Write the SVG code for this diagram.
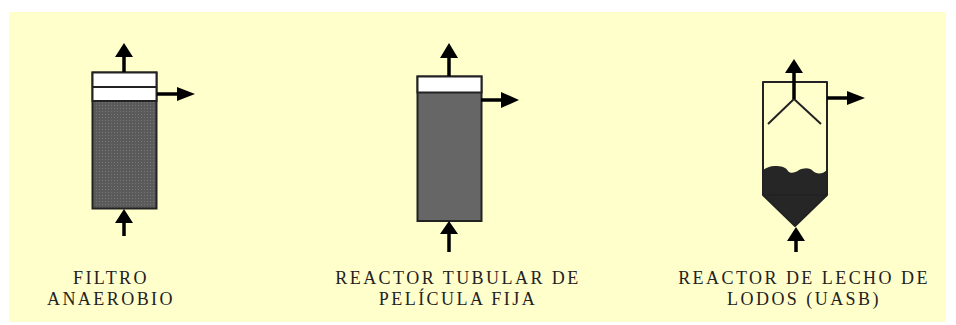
<svg xmlns="http://www.w3.org/2000/svg" width="956" height="325" viewBox="0 0 956 325">
<style>
.o{stroke:#222;stroke-width:2;fill:none;stroke-linejoin:round}
.w{fill:#fff;stroke:#222;stroke-width:2}
.a{stroke:#000;stroke-width:3.500;fill:none}
.h{fill:#000}
text{font-family:"Liberation Serif","Times New Roman",serif;font-size:18px;fill:#222;letter-spacing:2.450px;text-anchor:middle}
</style>
<defs>
<pattern id="dots" width="3" height="3" patternUnits="userSpaceOnUse"><rect width="3" height="3" fill="#5a5a5a"/><rect width="1" height="1" fill="#777"/></pattern>
</defs>
<rect width="956" height="325" fill="#fff"/>
<rect x="9" y="12" width="937" height="310" fill="#ffffcc"/>
<g id="filtro">
<rect x="92.500" y="72.500" width="64" height="136" fill="url(#dots)" stroke="#222" stroke-width="2"/>
<rect class="w" x="92.500" y="72.500" width="64" height="28.500"/>
<line class="o" x1="92.500" y1="87" x2="156.500" y2="87"/>
<text x="111" y="284">FILTRO</text>
<text x="111" y="305">ANAEROBIO</text>
</g>
<g id="tubular">
<rect x="417.500" y="76.500" width="64" height="144.500" fill="#666" stroke="#222" stroke-width="2"/>
<rect class="w" x="417.500" y="76.500" width="64" height="16"/>
<text x="458" y="284">REACTOR TUBULAR DE</text>
<text x="458" y="305">PELÍCULA FIJA</text>
</g>
<g id="uasb">
<path d="M763 170C766 168 770 166 775 166C781 166 786 167 788 171C790 174 795 173 799 170C803 168 810 167 813 171C816 174 822 175 827 170V195L795 226L763 195Z" fill="#262626"/>
<path class="o" d="M763 195V82H827V195L795 226ZM763 195H827"/>
<path class="o" d="M768 124L794 99L821 124"/>
<text x="804" y="284">REACTOR DE LECHO DE</text>
<text x="804" y="305">LODOS (UASB)</text>
</g>
<g id="connectors">
<path class="a" d="M124 72V54M157 94H179M124 236V221"/>
<path class="h" d="M124 43L133 57H115ZM195 94L177 101V87ZM124 209L133 223H115Z"/>
<path class="a" d="M449 76V56M481 100H503M449 252V232"/>
<path class="h" d="M449 43L458 58H440ZM519 100L501 108V92ZM449 221L458 234H440Z"/>
<path class="a" d="M794 99V71M827 98H849M796 252V238"/>
<path class="h" d="M794 59L803 73H785ZM865 98L847 105V91ZM796 227L805 241H787Z"/>
</g>
</svg>
